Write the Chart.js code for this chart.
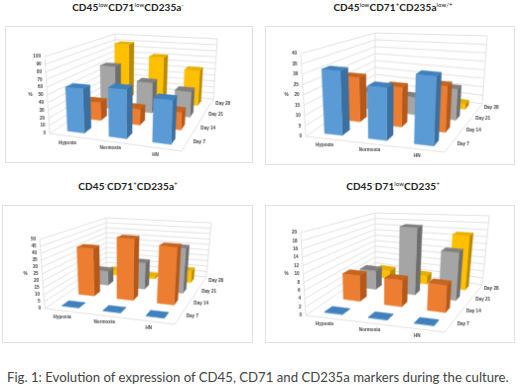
<!DOCTYPE html>
<html>
<head>
<meta charset="utf-8">
<title>Fig. 1</title>
<script src="https://cdn.jsdelivr.net/npm/chart.js@4"></script>
<style>
  html, body { margin: 0; padding: 0; background: #fff; }
  body { position: relative; width: 520px; height: 385px; overflow: hidden; font-family: Lato, sans-serif; filter: blur(0.3px); }
  canvas { position: absolute; border: 1px solid #e0e0e0; box-sizing: border-box; }
  .title { position: absolute; font: bold 10px Lato, sans-serif; letter-spacing: 0.1px; color: #222; white-space: nowrap; transform: translateX(-50%); line-height: 12px; }
  .title sup { font-size: 6px; font-weight: normal; line-height: 0; }
  #caption { position: absolute; left: 7px; top: 369px; font-size: 13.2px; color: #444; white-space: nowrap; }
</style>
</head>
<body>
<div class="title" style="left:128px;top:1px">CD45<sup>low</sup>CD71<sup>low</sup>CD235a<sup>-</sup></div>
<div class="title" style="left:393px;top:1px">CD45<sup>low</sup>CD71<sup>+</sup>CD235a<sup>low/+</sup></div>
<div class="title" style="left:128px;top:180px">CD45<sup>-</sup>CD71<sup>+</sup>CD235a<sup>+</sup></div>
<div class="title" style="left:393px;top:180px">CD45<sup>-</sup>D71<sup>low</sup>CD235<sup>+</sup></div>
<div id="caption">Fig. 1: Evolution of expression of CD45, CD71 and CD235a markers during the culture.</div>
<canvas id="c1"></canvas>
<canvas id="c2"></canvas>
<canvas id="c3"></canvas>
<canvas id="c4"></canvas>
<script>
// categories and series
const categories = ['Hypoxia', 'Normoxia', 'HN'];
const days = ['Day 7', 'Day 14', 'Day 21', 'Day 28'];

// values, one array per day, in category order
const lowLowDay7 = [58, 63, 55];
const lowLowDay14 = [25, 22, 24];
const lowLowDay21 = [65, 45, 37];
const lowLowDay28 = [90, 72, 55];

const lowPosDay7 = [32, 26, 34];
const lowPosDay14 = [24, 21, 24];
const lowPosDay21 = [10, 10, 17];
const lowPosDay28 = [3, 3, 3];

const negPosDay7 = [0.4, 0.4, 0.4];
const negPosDay14 = [38, 48, 44];
const negPosDay21 = [12, 22, 37];
const negPosDay28 = [4, 2, 10];

const negLowDay7 = [0.2, 0.2, 0.2];
const negLowDay14 = [7, 7, 7];
const negLowDay21 = [5.5, 19, 13];
const negLowDay28 = [2.5, 2.5, 15.5];

// tick labels of the value axes
const ticks100 = [0, 10, 20, 30, 40, 50, 60, 70, 80, 90, 100];
const ticks40 = [0, 5, 10, 15, 20, 25, 30, 35, 40];
const ticks50 = [0, 5, 10, 15, 20, 25, 30, 35, 40, 45, 50];
const ticks20 = [0, 2, 4, 6, 8, 10, 12, 14, 16, 18, 20];

// front, side and top colours per day
const faceColors = [
  ['#5b9bd5', '#3a6f9f', '#3f80bd'],
  ['#ed7d31', '#b5591b', '#c8641e'],
  ['#a5a5a5', '#6e6e6e', '#808080'],
  ['#ffc000', '#b98c00', '#e8ae00']
];

// box = panel on the page, floor/roof = corners of the 3d box (front left, front right, back right, back left)
const panels = [
  { id: 'c1', box: [5, 26, 248, 137], ticks: ticks100,
    series: [lowLowDay7, lowLowDay14, lowLowDay21, lowLowDay28],
    floor: [[49, 134], [182, 152], [214, 99], [115, 90]],
    roof: [[44, 56], [186, 67], [218, 38], [115, 33]] },
  { id: 'c2', box: [265, 26, 250, 139], ticks: ticks40,
    series: [lowPosDay7, lowPosDay14, lowPosDay21, lowPosDay28],
    floor: [[305, 137], [445, 153], [483, 104], [375, 88]],
    roof: [[300, 53], [449, 68], [488, 35], [375, 32]] },
  { id: 'c3', box: [2, 205, 251, 138], ticks: ticks50,
    series: [negPosDay7, negPosDay14, negPosDay21, negPosDay28],
    floor: [[44, 309], [175, 325], [207, 277], [106, 267]],
    roof: [[39, 239], [179, 250], [212, 222], [106, 217]] },
  { id: 'c4', box: [265, 205, 250, 138], ticks: ticks20,
    series: [negLowDay7, negLowDay14, negLowDay21, negLowDay28],
    floor: [[305, 316], [445, 333], [483, 285], [375, 268]],
    roof: [[300, 232], [449, 246], [490, 215], [375, 212]] }
];

const barShareU = 0.41; // part of a cell taken by a bar along the categories
const barShareV = 0.4; // same along the days
const warpU = 0.93; // categories widen a bit to the right
const warpV = 1.25; // days shrink towards the back

function warp(t, k) {
  return k * t / (1 + (k - 1) * t);
}

// floor is bilinear with warped axes, heights are lifted over it so bars stay close to upright
function makeProjection(panel) {
  const mix = (c, k, u, v) => (c[0][k] * (1 - u) + c[1][k] * u) * (1 - v) + (c[3][k] * (1 - u) + c[2][k] * u) * v;
  return (rawU, rawV, w) => {
    const u = warp(rawU, warpU), v = warp(rawV, warpV);
    const fx = mix(panel.floor, 0, u, v), fy = mix(panel.floor, 1, u, v);
    return { x: fx + (mix(panel.roof, 0, u, v) - fx) * w, y: fy + (mix(panel.roof, 1, u, v) - fy) * w };
  };
}

// borderDash keeps chart.js off its fast path, which rounds x to whole pixels
function polygon(points, color) {
  return { data: points.concat([points[0]]), showLine: true, fill: 'shape', backgroundColor: color,
    borderColor: color, borderWidth: 0.4, pointRadius: 0, borderDash: [1000, 0] };
}

function gridLine(points) {
  return { data: points, showLine: true, fill: false, borderColor: '#e2e2e2', borderWidth: 1, pointRadius: 0, borderDash: [1000, 0] };
}

function buildDatasets(panel) {
  const at = makeProjection(panel);
  const top = panel.ticks[panel.ticks.length - 1];
  const sets = [];

  // walls
  panel.ticks.forEach(t => {
    const w = t / top;
    sets.push(gridLine([at(0, 0, w), at(0, 1, w), at(1, 1, w)]));
  });
  sets.push(gridLine([at(0, 0, 0), at(0, 0, 1)]));
  sets.push(gridLine([at(0, 1, 0), at(0, 1, 1)]));
  sets.push(gridLine([at(1, 1, 0), at(1, 1, 1)]));
  sets.push(gridLine([at(0, 0, 0), at(1, 0, 0), at(1, 1, 0)]));

  // bars, back row first and left to right so nearer faces paint over
  const du = 1 / categories.length, dv = 1 / days.length;
  for (let d = days.length - 1; d >= 0; d--) {
    categories.forEach((cat, c) => {
      const w = panel.series[d][c] / top;
      const u0 = (c + 0.5 - barShareU / 2) * du, u1 = (c + 0.5 + barShareU / 2) * du;
      const v0 = (d + 0.5 - barShareV / 2) * dv, v1 = (d + 0.5 + barShareV / 2) * dv;
      const col = faceColors[d];
      sets.push(polygon([at(u1, v0, 0), at(u1, v1, 0), at(u1, v1, w), at(u1, v0, w)], col[1]));
      sets.push(polygon([at(u0, v0, 0), at(u1, v0, 0), at(u1, v0, w), at(u0, v0, w)], col[0]));
      sets.push(polygon([at(u0, v0, w), at(u1, v0, w), at(u1, v1, w), at(u0, v1, w)], col[2]));
    });
  }
  // chart.js paints dataset 0 last
  return sets.reverse();
}

// axis texts sit on the slanted box, so they are placed with the same projection
const boxLabels = {
  id: 'boxLabels',
  afterDatasetsDraw(chart, args, opts) {
    const panel = opts.panel;
    const at = makeProjection(panel);
    const xs = chart.scales.x, ys = chart.scales.y;
    const top = panel.ticks[panel.ticks.length - 1];
    const ctx = chart.ctx;
    const put = (txt, p, dx, dy, align) => {
      ctx.textAlign = align;
      ctx.fillText(txt, xs.getPixelForValue(p.x + dx), ys.getPixelForValue(p.y + dy));
    };
    ctx.save();
    ctx.fillStyle = '#3a3a3a';
    ctx.textBaseline = 'middle';
    ctx.font = 'bold 4.6px "Liberation Sans", sans-serif';
    panel.ticks.forEach(t => put(String(t), at(0, 0, t / top), -4, 0, 'right'));
    categories.forEach((cat, i) => put(cat, at((i + 0.5) / categories.length, 0, 0), -3, 6.5, 'center'));
    days.forEach((day, i) => put(day, at(1, (i + 0.5) / days.length, 0), 13, -1, 'center'));
    put('%', at(0, 0, 0.5), -17, 0, 'center');
    ctx.restore();
  }
};

panels.forEach(panel => {
  const [left, topY, width, height] = panel.box;
  const canvas = document.getElementById(panel.id);
  canvas.width = width;
  canvas.height = height;
  canvas.style.left = left + 'px';
  canvas.style.top = topY + 'px';
  new Chart(canvas, {
    type: 'scatter',
    data: { datasets: buildDatasets(panel) },
    plugins: [boxLabels],
    options: {
      responsive: false,
      animation: false,
      layout: { padding: 0 },
      // scales run in page pixels; projected points go through them
      scales: {
        x: { type: 'linear', display: false, min: left, max: left + width },
        y: { type: 'linear', display: false, min: topY, max: topY + height, reverse: true }
      },
      plugins: { legend: { display: false }, tooltip: { enabled: false }, boxLabels: { panel: panel } }
    }
  });
});
</script>
</body>
</html>
